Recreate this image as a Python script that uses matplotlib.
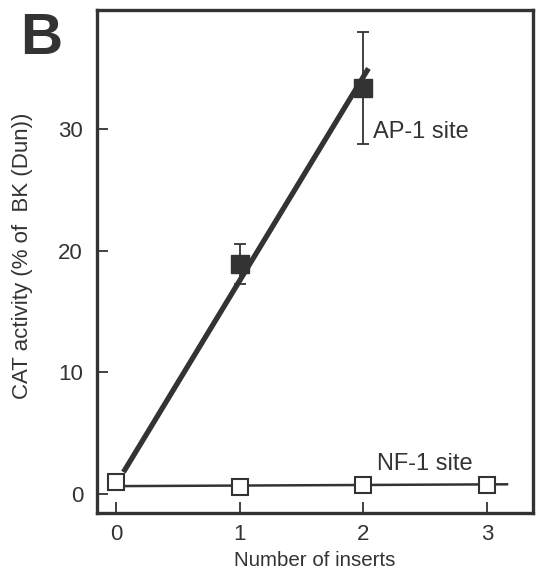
import matplotlib
matplotlib.use("Agg")
import matplotlib.pyplot as plt

# Data
inserts = [0, 1, 2, 3]
nf1_values = [0.95, 0.6, 0.75, 0.75]
nf1_fit_x = [0.02, 3.16]
nf1_fit_y = [0.65, 0.8]

ap1_x = [1, 2]
ap1_values = [18.9, 33.4]
ap1_err_low = [1.6, 4.6]
ap1_err_high = [1.7, 4.6]
ap1_fit_x = [0.06, 2.04]
ap1_fit_y = [1.8, 35.0]

yticks = [0, 10, 20, 30]

plt.rcParams['font.family'] = ['Liberation Sans', 'DejaVu Sans']
ink = '#333333'

fig = plt.figure(figsize=(5.36, 5.71), dpi=100)
ax = fig.add_axes([97/536, 1 - 513/571, (533-97)/536, (513-10)/571])

# AP-1 line and points
ax.plot(ap1_fit_x, ap1_fit_y, color=ink, lw=3.8, solid_capstyle='butt', zorder=2)
ax.errorbar(ap1_x, ap1_values, yerr=[ap1_err_low, ap1_err_high], fmt='s',
            color=ink, ms=13, ecolor=ink, elinewidth=1.3, capsize=4.3,
            capthick=1.3, zorder=3)

# NF-1 line and points
ax.plot(nf1_fit_x, nf1_fit_y, color=ink, lw=1.8, zorder=2)
ax.plot(inserts, nf1_values, 's', ms=11, mfc='white', mec=ink, mew=1.5, zorder=4)

ax.text(2.08, 29.8, 'AP-1 site', fontsize=17, color=ink, ha='left', va='center')
ax.text(2.11, 2.5, 'NF-1 site', fontsize=17, color=ink, ha='left', va='center')

ax.set_xlim(-0.154, 3.37)
ax.set_ylim(-1.56, 39.8)
ax.set_xticks(inserts)
ax.set_yticks(yticks)

for s in ax.spines.values():
    s.set_linewidth(2.4)
    s.set_color(ink)

ax.tick_params(axis='both', direction='in', length=8, width=1.3, color=ink,
               labelsize=16, labelcolor=ink)
ax.tick_params(axis='y', pad=10)
ax.tick_params(axis='x', pad=8)

ax.set_xlabel('Number of inserts', fontsize=14.8, color=ink, labelpad=4)
ax.set_ylabel('CAT activity (% of  BK (Dun))', fontsize=16, color=ink)
ax.yaxis.set_label_coords((33 - 97) / 436, 0.511)

fig.text(20/536, 1 - 12/571, 'B', fontsize=42, fontweight='bold', color=ink,
         ha='left', va='top')

fig.savefig('out.png', dpi=100, facecolor='white')
